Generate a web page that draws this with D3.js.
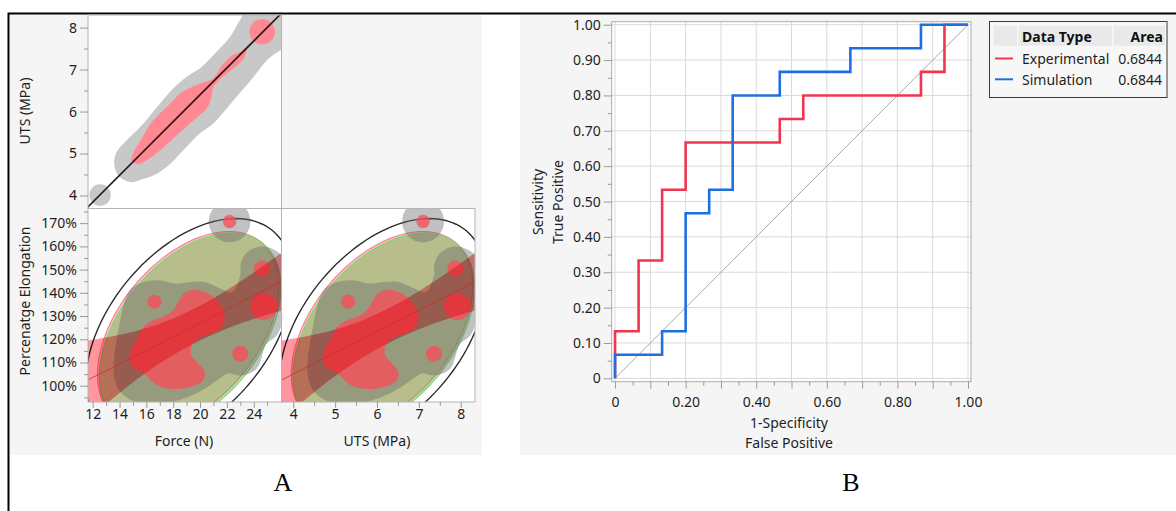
<!DOCTYPE html>
<html>
<head>
<meta charset="utf-8">
<script src="https://cdn.jsdelivr.net/npm/d3@7"></script>
<style>
  body { margin: 0; background: #fff; }
  svg { display: block; font-family: "Noto Sans", sans-serif; }
</style>
</head>
<body>
<script>
const width = 1176,
  height = 511;

// ---------------- ROC (panel B) ----------------
const rocNames = ["Experimental", "Simulation"];
const rocArea = [0.6844, 0.6844];
// threshold points of each curve (1-specificity, sensitivity)
const expFPR = [0, 0, 0.0667, 0.0667, 0.1333, 0.1333, 0.2, 0.2, 0.4667, 0.4667, 0.5333, 0.5333, 0.8667, 0.8667, 0.9333, 0.9333, 1];
const expTPR = [0, 0.1333, 0.1333, 0.3333, 0.3333, 0.5333, 0.5333, 0.6667, 0.6667, 0.7333, 0.7333, 0.8, 0.8, 0.8667, 0.8667, 1, 1];
const simFPR = [0, 0, 0.1333, 0.1333, 0.2, 0.2, 0.2667, 0.2667, 0.3333, 0.3333, 0.4667, 0.4667, 0.6667, 0.6667, 0.8667, 0.8667, 1];
const simTPR = [0, 0.0667, 0.0667, 0.1333, 0.1333, 0.4667, 0.4667, 0.5333, 0.5333, 0.8, 0.8, 0.8667, 0.8667, 0.9333, 0.9333, 1, 1];
const rocTicks = [0, 0.1, 0.2, 0.3, 0.4, 0.5, 0.6, 0.7, 0.8, 0.9, 1];
const rocLabelX = [0, 0.2, 0.4, 0.6, 0.8, 1];
const rocMinor = [0.05, 0.15, 0.25, 0.35, 0.45, 0.55, 0.65, 0.75, 0.85, 0.95];

// ---------------- scatterplot matrix (panel A) ----------------
const forceTicks = [12, 14, 16, 18, 20, 22, 24];
const forceMinor = [13, 15, 17, 19, 21, 23, 25];
const utsTicks = [4, 5, 6, 7, 8];
const utsMinor = [4.5, 5.5, 6.5, 7.5];
const elongTicks = [100, 110, 120, 130, 140, 150, 160, 170];
const elongMinor = [95, 105, 115, 125, 135, 145, 155, 165, 175];

// linear fits [intercept, slope]
const utsOnForce = [0, 0.32];
const elongOnForce = [68.4, 2.93];
const elongOnUTS = [68.4, 9.16];

// shaded fit band of elongation
const bandForce = [11.6, 14, 16.5, 19, 21.5, 24, 26.1];
const bandUTS = [3.71, 4.48, 5.28, 6.08, 6.88, 7.68, 8.35];
const bandLow = [85.4, 96.9, 107.7, 116.6, 123.4, 128.7, 132.4];
const bandHigh = [119.4, 121.9, 125.7, 131.6, 139.4, 148.7, 157.4];

// density ellipses
const groupForce = [19.12, 19.26];
const groupUTS = [6.12, 6.16];
const groupElong = [123.9, 123.2];
const pooledMean = [19.2, 6.14, 123.5]; // force, uts, elongation
const sdForce = 3.15, sdUTS = 1.01, sdElong = 19.8, rElong = 0.45;

// nonparametric density contours, UTS vs force
const topGrayForce = [13.6, 13.8, 14.55, 15.55, 16.8, 18.0, 19.0, 20.0, 21.25, 22.25, 23.0, 23.6, 26.8, 26.8, 26.05, 25.0, 24.0, 22.5, 21.0, 20.0, 19.0, 17.8, 16.8, 15.8, 14.8, 13.9];
const topGrayUTS = [4.76, 5.04, 5.32, 5.63, 6.11, 6.55, 6.83, 7.03, 7.43, 7.79, 8.19, 8.5, 8.5, 7.6, 7.47, 7.23, 6.83, 6.27, 5.72, 5.48, 5.16, 4.76, 4.52, 4.40, 4.32, 4.48];
const topRedForce = [14.9, 15.05, 15.65, 16.4, 17.65, 18.65, 19.65, 20.5, 21.0, 21.65, 22.4, 23.0, 23.5, 23.25, 22.75, 22.15, 21.4, 21.0, 20.85, 20.5, 19.65, 18.4, 17.15, 16.15, 15.4];
const topRedUTS = [4.83, 5.03, 5.35, 5.75, 6.15, 6.46, 6.62, 6.72, 6.8, 7.1, 7.34, 7.42, 7.54, 7.26, 7.1, 6.94, 6.74, 6.58, 6.34, 6.07, 5.83, 5.47, 5.11, 4.87, 4.75];
const topSpotForce = [12.55, 24.63];
const topSpotUTS = [4.01, 7.9];
const topSpotRad = [0.8, 0.95];
const topSpotLevel = ["outer", "inner"];

// nonparametric density contours, elongation vs force / UTS
const lowGrayForce = [14.3, 14.8, 15.7, 16.9, 18.15, 19.15, 20.4, 21.5, 22.4, 22.9, 23.4, 24.6, 25.9, 26.4, 26.5, 26.25, 25.75, 24.9, 24.6, 24.2, 23.1, 22.1, 21.3, 20.4, 19.15, 17.65, 16.15, 14.9, 14.05, 13.6, 13.6, 13.8, 14.05];
const lowGrayUTS = [4.58, 4.74, 5.02, 5.41, 5.81, 6.13, 6.53, 6.88, 7.17, 7.33, 7.49, 7.87, 8.29, 8.45, 8.48, 8.40, 8.24, 7.97, 7.87, 7.74, 7.39, 7.07, 6.82, 6.53, 6.13, 5.65, 5.17, 4.77, 4.50, 4.35, 4.35, 4.42, 4.50];
const lowGrayElong = [134.8, 141.3, 144.4, 145.4, 144.0, 144.6, 144.6, 142.0, 140.3, 145.6, 156.3, 159.9, 157.1, 150.6, 142.0, 130.5, 121.9, 117.6, 112.5, 107.2, 104.6, 105.3, 102.5, 98.9, 95.3, 92.8, 92.4, 93.8, 97.4, 103.9, 111.8, 120.4, 128.3];
const lowRedForce = [18.9, 19.9, 20.85, 21.5, 21.85, 21.6, 20.9, 20.0, 19.4, 19.35, 19.85, 20.35, 20.2, 19.35, 18.15, 17.05, 16.3, 15.65, 14.95, 14.75, 14.95, 15.4, 15.7, 16.4, 17.3, 17.95, 18.4];
const lowRedUTS = [6.05, 6.37, 6.67, 6.88, 6.99, 6.91, 6.69, 6.40, 6.21, 6.19, 6.35, 6.51, 6.46, 6.19, 5.81, 5.46, 5.22, 5.01, 4.78, 4.72, 4.78, 4.93, 5.02, 5.25, 5.54, 5.74, 5.89];
const lowRedElong = [140.3, 141.1, 138.8, 134.8, 129.8, 125.0, 122.6, 120.7, 117.6, 113.2, 109.6, 106.1, 102.0, 99.6, 98.6, 99.6, 102.5, 106.1, 108.2, 111.8, 116.8, 121.1, 124.7, 127.9, 129.8, 132.2, 136.2];
const spotForce = [22.2, 24.6, 23.0, 22.2, 24.6, 24.75, 16.6, 23.0];
const spotUTS = [7.10, 7.87, 7.36, 7.10, 7.87, 7.92, 5.31, 7.36];
const spotElong = [170.7, 150.6, 113.7, 170.7, 150.5, 134.1, 136.2, 113.7];
const spotRadForce = [1.55, 1.6, 1.6, 0.5, 0.6, 1.0, 0.52, 0.6];
const spotRadUTS = [0.5, 0.51, 0.51, 0.16, 0.19, 0.32, 0.17, 0.19];
const spotLevel = ["outer", "outer", "outer", "inner", "inner", "inner", "inner", "inner"];

const red = "#f0364f", blue = "#1f6fe3";

const svg = d3
  .select("body")
  .append("svg")
  .attr("width", width)
  .attr("height", height);
const defs = svg.append("defs");

// panel backgrounds and frame
svg.append("rect").attr("x", 10).attr("y", 15).attr("width", 472).attr("height", 440).attr("fill", "#f5f5f5");
svg.append("rect").attr("x", 520).attr("y", 15).attr("width", 656).attr("height", 440).attr("fill", "#f5f5f5");
svg.append("path").attr("d", "M8.5,511V13.5H1176").attr("fill", "none").attr("stroke", "#000").attr("stroke-width", 2);

// ---------------- panel A ----------------
const cx0 = 88, cx1 = 281.5, cx2 = 475, cy0 = 15, cy1 = 208.5, cy2 = 402;
const xForce = d3.scaleLinear().domain([11.65, 26.07]).range([cx0, cx1]);
const xUTS = d3.scaleLinear().domain([3.72, 8.34]).range([cx1, cx2]);
const yUTS = d3.scaleLinear().domain([3.69, 8.3]).range([cy1, cy0]);
const yElong = d3.scaleLinear().domain([93.0, 176.3]).range([cy2, cy1]);

const zip = (a, b) => a.map((v, i) => [v, b[i]]);
const blob = (xs, ys, a, b) =>
  d3.line().x(d => xs(d[0])).y(d => ys(d[1])).curve(d3.curveCatmullRomClosed.alpha(0.5))(zip(a, b));

// density ellipse from means, sds and correlation at probability p
function ellipse(xs, ys, mx, my, sx, sy, r, p) {
  const c = Math.sqrt(-2 * Math.log(1 - p));
  const pts = d3.range(0, 360, 3).map(deg => {
    const t = (deg * Math.PI) / 180;
    const u = Math.cos(t), v = Math.sin(t);
    return [xs(mx + c * sx * u), ys(my + c * sy * (r * u + Math.sqrt(1 - r * r) * v))];
  });
  return d3.line()(pts) + "Z";
}

function makeCell(id, xs, ys) {
  const x0 = xs.range()[0], x1 = xs.range()[1];
  const y0 = ys.range()[1], y1 = ys.range()[0];
  defs.append("clipPath").attr("id", id)
    .append("rect").attr("x", x0).attr("y", y0).attr("width", x1 - x0).attr("height", y1 - y0);
  svg.append("rect").attr("x", x0).attr("y", y0).attr("width", x1 - x0).attr("height", y1 - y0).attr("fill", "#fff");
  return svg.append("g").attr("clip-path", `url(#${id})`);
}
function cellBorder(xs, ys) {
  const x0 = xs.range()[0], x1 = xs.range()[1];
  const y0 = ys.range()[1], y1 = ys.range()[0];
  svg.append("rect").attr("x", x0).attr("y", y0).attr("width", x1 - x0).attr("height", y1 - y0)
    .attr("fill", "none").attr("stroke", "#b4b4b4");
}

// UTS vs Force
const topCell = makeCell("clipTop", xForce, yUTS);
const topGray = topCell.append("g").attr("fill", "#c8c8c8");
topGray.append("path").attr("d", blob(xForce, yUTS, topGrayForce, topGrayUTS));
const topRed = topCell.append("g").attr("fill", "#ff8892");
topRed.append("path").attr("d", blob(xForce, yUTS, topRedForce, topRedUTS));
topSpotForce.forEach((f, i) => {
  (topSpotLevel[i] === "outer" ? topGray : topRed)
    .append("circle")
    .attr("cx", xForce(f))
    .attr("cy", yUTS(topSpotUTS[i]))
    .attr("r", xForce(f + topSpotRad[i]) - xForce(f));
});
topCell.append("line")
  .attr("x1", xForce(11.5)).attr("y1", yUTS(utsOnForce[0] + utsOnForce[1] * 11.5))
  .attr("x2", xForce(26.2)).attr("y2", yUTS(utsOnForce[0] + utsOnForce[1] * 26.2))
  .attr("stroke", "#2a1515").attr("stroke-width", 1.6);
cellBorder(xForce, yUTS);

// Elongation vs Force / UTS
function elongCell(id, xs, p) {
  const c = makeCell(id, xs, yElong);
  c.append("path")
    .attr("d", ellipse(xs, yElong, p.meanX, pooledMean[2], p.sd, sdElong, rElong, 0.95))
    .attr("fill", "none").attr("stroke", "#2b2b2b").attr("stroke-width", 1.4);
  const shadeFill = ["rgb(255,60,60)", "rgb(60,180,40)"];
  const shadeOpacity = [0.3, 0.37];
  const shadeStroke = ["#ff7f90", "#7fd67f"];
  p.groupX.forEach((gx, i) => {
    c.append("path")
      .attr("d", ellipse(xs, yElong, gx, groupElong[i], p.sd, sdElong, rElong, 0.9))
      .attr("fill", shadeFill[i]).attr("fill-opacity", shadeOpacity[i])
      .attr("stroke", shadeStroke[i]).attr("stroke-width", 1.2);
  });
  const gray = c.append("g").attr("opacity", 0.42).attr("fill", "#6b6b6b");
  gray.append("path").attr("d", blob(xs, yElong, p.grayX, lowGrayElong));
  const redG = c.append("g").attr("opacity", 0.72).attr("fill", "rgb(255,70,85)");
  redG.append("path").attr("d", blob(xs, yElong, p.redX, lowRedElong));
  p.spotX.forEach((sx, i) => {
    (spotLevel[i] === "outer" ? gray : redG)
      .append("circle")
      .attr("cx", xs(sx))
      .attr("cy", yElong(spotElong[i]))
      .attr("r", xs(sx + p.spotR[i]) - xs(sx));
  });
  c.append("path")
    .attr("d", d3.area()
      .x(d => xs(d[0])).y0(d => yElong(d[1])).y1(d => yElong(d[2]))
      .curve(d3.curveMonotoneX)(p.bandX.map((v, i) => [v, bandLow[i], bandHigh[i]])))
    .attr("fill", "#ff96a0")
    .style("mix-blend-mode", "multiply");
  const dom = xs.domain();
  c.append("line")
    .attr("x1", xs(dom[0])).attr("y1", yElong(p.fit[0] + p.fit[1] * dom[0]))
    .attr("x2", xs(dom[1])).attr("y2", yElong(p.fit[0] + p.fit[1] * dom[1]))
    .attr("stroke", "#c8302c").attr("stroke-width", 1).attr("stroke-opacity", 0.8);
  cellBorder(xs, yElong);
}

elongCell("clipForce", xForce, {
  meanX: pooledMean[0], sd: sdForce, groupX: groupForce, grayX: lowGrayForce, redX: lowRedForce,
  spotX: spotForce, spotR: spotRadForce, bandX: bandForce, fit: elongOnForce
});
elongCell("clipUTS", xUTS, {
  meanX: pooledMean[1], sd: sdUTS, groupX: groupUTS, grayX: lowGrayUTS, redX: lowRedUTS,
  spotX: spotUTS, spotR: spotRadUTS, bandX: bandUTS, fit: elongOnUTS
});

// axes of panel A
function styleAxis(g) {
  g.attr("font-family", "Noto Sans, sans-serif").attr("font-size", 14);
  g.select(".domain").remove();
  g.selectAll(".tick line").attr("stroke", "#9a9a9a");
  g.selectAll(".tick text").attr("fill", "#1e1e1e");
}
svg.append("g").attr("transform", `translate(${cx0},0)`)
  .call(d3.axisLeft(yUTS).tickValues(utsTicks).tickSize(8).tickPadding(3).tickFormat(d3.format("d"))).call(styleAxis);
svg.append("g").attr("transform", `translate(${cx0},0)`)
  .call(d3.axisLeft(yUTS).tickValues(utsMinor).tickSize(4).tickFormat("")).call(styleAxis);
svg.append("g").attr("transform", `translate(${cx0},0)`)
  .call(d3.axisLeft(yElong).tickValues(elongTicks).tickSize(8).tickPadding(3).tickFormat(d => d + "%")).call(styleAxis);
svg.append("g").attr("transform", `translate(${cx0},0)`)
  .call(d3.axisLeft(yElong).tickValues(elongMinor).tickSize(4).tickFormat("")).call(styleAxis);
svg.append("g").attr("transform", `translate(0,${cy2})`)
  .call(d3.axisBottom(xForce).tickValues(forceTicks).tickSize(6).tickPadding(1).tickFormat(d3.format("d"))).call(styleAxis);
svg.append("g").attr("transform", `translate(0,${cy2})`)
  .call(d3.axisBottom(xForce).tickValues(forceMinor).tickSize(4).tickFormat("")).call(styleAxis);
svg.append("g").attr("transform", `translate(0,${cy2})`)
  .call(d3.axisBottom(xUTS).tickValues(utsTicks).tickSize(6).tickPadding(1).tickFormat(d3.format("d"))).call(styleAxis);
svg.append("g").attr("transform", `translate(0,${cy2})`)
  .call(d3.axisBottom(xUTS).tickValues(utsMinor).tickSize(4).tickFormat("")).call(styleAxis);

const label = (x, y, text, rotate) =>
  svg.append("text")
    .attr("transform", `translate(${x},${y})` + (rotate ? " rotate(-90)" : ""))
    .attr("text-anchor", "middle")
    .attr("dominant-baseline", "central")
    .attr("font-size", 14)
    .attr("fill", "#1e1e1e")
    .text(text);

label(24, 111, "UTS (MPa)", true);
label(24, 301, "Percenatge Elongation", true);
label(184, 440, "Force (N)");
label(377, 440, "UTS (MPa)");

// ---------------- panel B ----------------
const xRoc = d3.scaleLinear().domain([-0.0095, 1.0085]).range([611.7, 971]);
const yRoc = d3.scaleLinear().domain([-0.0095, 1.0085]).range([381.7, 21.7]);

svg.append("rect").attr("x", 611.7).attr("y", 21.7).attr("width", 359.3).attr("height", 360).attr("fill", "#fff");
svg.append("g").selectAll("line.v").data(rocTicks).enter().append("line")
  .attr("x1", d => xRoc(d)).attr("x2", d => xRoc(d)).attr("y1", 21.7).attr("y2", 381.7)
  .attr("stroke", "#dadada");
svg.append("g").selectAll("line.h").data(rocTicks).enter().append("line")
  .attr("y1", d => yRoc(d)).attr("y2", d => yRoc(d)).attr("x1", 611.7).attr("x2", 971)
  .attr("stroke", "#dadada");
svg.append("rect").attr("x", 611.7).attr("y", 21.7).attr("width", 359.3).attr("height", 360)
  .attr("fill", "none").attr("stroke", "#ababab");
svg.append("line")
  .attr("x1", xRoc(0)).attr("y1", yRoc(0)).attr("x2", xRoc(1)).attr("y2", yRoc(1))
  .attr("stroke", "#a9a9a9").attr("stroke-width", 1);

const rocLine = d3.line().x(d => xRoc(d[0])).y(d => yRoc(d[1]));
svg.append("path").attr("d", rocLine(zip(expFPR, expTPR)))
  .attr("fill", "none").attr("stroke", red).attr("stroke-width", 2.6);
svg.append("path").attr("d", rocLine(zip(simFPR, simTPR)))
  .attr("fill", "none").attr("stroke", blue).attr("stroke-width", 2.6);

const rocFmt = d => (d === 0 ? "0" : d3.format(".2f")(d));
svg.append("g").attr("transform", "translate(611.7,0)")
  .call(d3.axisLeft(yRoc).tickValues(rocTicks).tickSize(8).tickPadding(3).tickFormat(rocFmt)).call(styleAxis);
svg.append("g").attr("transform", "translate(611.7,0)")
  .call(d3.axisLeft(yRoc).tickValues(rocMinor).tickSize(4).tickFormat("")).call(styleAxis);
svg.append("g").attr("transform", "translate(0,381.7)")
  .call(d3.axisBottom(xRoc).tickValues(rocTicks).tickSize(7).tickPadding(8)
    .tickFormat(d => (rocLabelX.includes(d) ? rocFmt(d) : ""))).call(styleAxis);
svg.append("g").attr("transform", "translate(0,381.7)")
  .call(d3.axisBottom(xRoc).tickValues(rocMinor).tickSize(4).tickFormat("")).call(styleAxis);

label(537, 202, "Sensitivity", true);
label(557, 202, "True Positive", true);
label(789, 422, "1-Specificity");
label(789, 442, "False Positive");

// legend table
const lg = svg.append("g");
lg.append("rect").attr("x", 989.5).attr("y", 21.5).attr("width", 177.5).attr("height", 76)
  .attr("fill", "#f7f7f7").attr("stroke", "#3a3a3a");
lg.append("rect").attr("x", 993.5).attr("y", 25.7).attr("width", 23.5).attr("height", 20).attr("fill", "#e9e9e9");
lg.append("rect").attr("x", 1018.5).attr("y", 25.7).attr("width", 93.5).attr("height", 20).attr("fill", "#e9e9e9");
lg.append("rect").attr("x", 1113.5).attr("y", 25.7).attr("width", 51.5).attr("height", 20).attr("fill", "#e9e9e9");
lg.append("text").attr("x", 1022).attr("y", 36).attr("dominant-baseline", "central")
  .attr("font-size", 14).attr("font-weight", "bold").attr("fill", "#111").text("Data Type");
lg.append("text").attr("x", 1163).attr("y", 36).attr("dominant-baseline", "central").attr("text-anchor", "end")
  .attr("font-size", 14).attr("font-weight", "bold").attr("fill", "#111").text("Area");
rocNames.forEach((name, i) => {
  const y = 58.5 + i * 20.8;
  lg.append("line").attr("x1", 995).attr("x2", 1013).attr("y1", y).attr("y2", y)
    .attr("stroke", i === 0 ? red : blue).attr("stroke-width", 2);
  lg.append("text").attr("x", 1022).attr("y", y).attr("dominant-baseline", "central")
    .attr("font-size", 14).attr("fill", "#1e1e1e").text(name);
  lg.append("text").attr("x", 1162).attr("y", y).attr("dominant-baseline", "central").attr("text-anchor", "end")
    .attr("font-size", 14).attr("fill", "#1e1e1e").text(d3.format(".4f")(rocArea[i]));
});

// panel letters
svg.append("text").attr("x", 283).attr("y", 482).attr("text-anchor", "middle").attr("dominant-baseline", "central")
  .attr("font-family", "Liberation Serif, serif").attr("font-size", 26).attr("fill", "#000").text("A");
svg.append("text").attr("x", 851).attr("y", 482).attr("text-anchor", "middle").attr("dominant-baseline", "central")
  .attr("font-family", "Liberation Serif, serif").attr("font-size", 26).attr("fill", "#000").text("B");
</script>
</body>
</html>
